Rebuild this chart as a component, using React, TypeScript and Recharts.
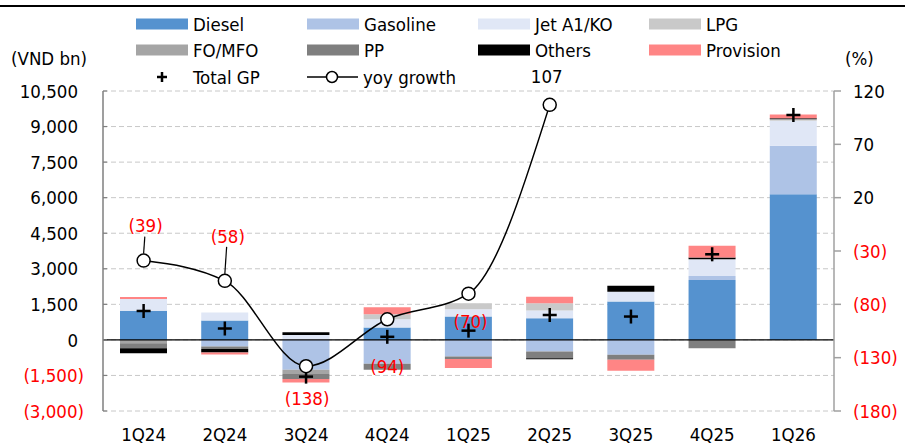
import React from "react";
import {
  ComposedChart,
  Bar,
  Line,
  XAxis,
  YAxis,
  CartesianGrid,
  ReferenceLine,
  LabelList,
} from "recharts";

// gross profit by segment (VND bn)
const quarters = ["1Q24", "2Q24", "3Q24", "4Q24", "1Q25", "2Q25", "3Q25", "4Q25", "1Q26"];
const diesel = [1225, 815, 0, 520, 985, 915, 1615, 2530, 6145];
const gasoline = [0, -280, -1265, -1010, -700, -490, -630, 170, 2040];
const jetA1 = [505, 340, 210, 350, 310, 320, 420, 705, 1055];
const lpg = [0, 0, 0, 210, 250, 310, 0, 0, 70];
const foMfo = [-140, 0, -170, 0, 0, 0, 0, 0, 0];
const pp = [-210, -100, -210, -250, -110, -280, -210, -350, 0];
const others = [-210, -155, 110, 0, 0, -50, 250, 70, 40];
const provision = [75, -85, -155, 295, -380, 280, -465, 495, 155];
const totalGp = [1220, 480, -1550, 130, 390, 1050, 985, 3610, 9490];
// yoy growth (%)
const yoyGrowth = [-39, -58, -138, -94, -70, 107, null, null, null];

const leftTicks = [-3000, -1500, 0, 1500, 3000, 4500, 6000, 7500, 9000, 10500];
const rightTicks = [-180, -130, -80, -30, 20, 70, 120];

const FONT = '"DejaVu Sans Condensed", "DejaVu Sans", sans-serif';
const FS = 18.5;
const RED = "#FF0000";

const segments = [
  { key: "diesel", name: "Diesel", color: "#5592CF" },
  { key: "gasoline", name: "Gasoline", color: "#AEC3E6" },
  { key: "jet", name: "Jet A1/KO", color: "#E0E7F6" },
  { key: "lpg", name: "LPG", color: "#C9C9C9" },
  { key: "fo", name: "FO/MFO", color: "#A5A5A5" },
  { key: "pp", name: "PP", color: "#7F7F7F" },
  { key: "others", name: "Others", color: "#000000" },
  { key: "provision", name: "Provision", color: "#FF8585" },
];

const tableData = quarters.map((q, i) => ({
  quarter: q,
  diesel: diesel[i],
  gasoline: gasoline[i],
  jet: jetA1[i],
  lpg: lpg[i],
  fo: foMfo[i],
  pp: pp[i],
  others: others[i],
  provision: provision[i],
  totalGp: totalGp[i],
  yoy: yoyGrowth[i],
}));

// label placement for yoy points (offset from marker), plus leader lines
const yoyLabelPos = [
  { dx: 2, dy: -35, leader: true },
  { dx: 3, dy: -45, leader: true },
  { dx: 1, dy: 32, leader: false },
  { dx: 0, dy: 47, leader: false },
  { dx: 2, dy: 28, leader: false },
  { dx: -3, dy: -29, leader: false },
];

const fmtNum = (v: number) =>
  v < 0 ? `(${Math.abs(v).toLocaleString("en-US")})` : v.toLocaleString("en-US");

const LeftTick = (props: any) => {
  const { x, y, payload } = props;
  const v = payload.value;
  return (
    <g>
      <line x1={103} x2={107} y1={y} y2={y} stroke="#7F7F7F" strokeWidth={1.2} />
      <text
        x={v < 0 ? x + 6 : x}
        y={y}
        dy="0.36em"
        textAnchor="end"
        fontSize={FS}
        fill={v < 0 ? RED : "#000"}
      >
        {fmtNum(v)}
      </text>
    </g>
  );
};

const RightTick = (props: any) => {
  const { x, y, payload } = props;
  const v = payload.value;
  return (
    <text x={x} y={y} dy="0.36em" textAnchor="start" fontSize={FS} fill={v < 0 ? RED : "#000"}>
      {fmtNum(v)}
    </text>
  );
};

const BottomTick = (props: any) => {
  const { x, y, payload } = props;
  return (
    <text x={x} y={y} dy="0.71em" textAnchor="middle" fontSize={FS} fill="#000">
      {payload.value}
    </text>
  );
};

const PlusDot = (props: any) => {
  const { cx, cy, index } = props;
  if (cx == null || cy == null) return <g key={`p${index}`} />;
  return (
    <g key={`p${index}`}>
      <line x1={cx - 7} x2={cx + 7} y1={cy} y2={cy} stroke="#000" strokeWidth={2.5} />
      <line x1={cx} x2={cx} y1={cy - 7} y2={cy + 7} stroke="#000" strokeWidth={2.5} />
    </g>
  );
};

const CircleDot = (props: any) => {
  const { cx, cy, index } = props;
  if (cx == null || cy == null) return <g key={`c${index}`} />;
  return <circle key={`c${index}`} cx={cx} cy={cy} r={6.5} fill="#fff" stroke="#000" strokeWidth={1.5} />;
};

const YoyLabel = (props: any) => {
  const { x, y, value, index } = props;
  if (value == null || x == null || y == null) return null;
  const pos = yoyLabelPos[index] || { dx: 0, dy: -30, leader: false };
  const ly = y + pos.dy;
  return (
    <g>
      {pos.leader && (
        <line x1={x + pos.dx * 0.6} y1={ly + 11} x2={x} y2={y - 7} stroke="#000" strokeWidth={1.2} />
      )}
      <text
        x={x + pos.dx}
        y={ly}
        dy="0.36em"
        textAnchor="middle"
        fontSize={FS}
        fill={value < 0 ? RED : "#000"}
      >
        {fmtNum(value)}
      </text>
    </g>
  );
};

const legendCols = [136, 307, 478, 649];
const legendRows = [24, 50];

export default function App() {
  return (
    <div
      style={{
        position: "absolute",
        left: 0,
        top: 0,
        width: 910,
        height: 446,
        background: "#fff",
        fontFamily: FONT,
      }}
    >
      <ComposedChart
        width={910}
        height={446}
        data={tableData}
        stackOffset="sign"
        margin={{ top: 91, right: 0, bottom: 0, left: 0 }}
      >
        <CartesianGrid yAxisId="left" vertical={false} stroke="#C8C8C8" strokeDasharray="5 3" />
        <XAxis
          dataKey="quarter"
          axisLine={false}
          tickLine={false}
          tickSize={0}
          tickMargin={17}
          height={35}
          interval={0}
          tick={<BottomTick />}
        />
        <YAxis
          yAxisId="left"
          orientation="left"
          width={103}
          domain={[-3000, 10500]}
          ticks={leftTicks}
          interval={0}
          allowDataOverflow
          axisLine={{ stroke: "#7F7F7F", strokeWidth: 1.5 }}
          tickLine={false}
          tickSize={0}
          tickMargin={25}
          tick={<LeftTick />}
        />
        <YAxis
          yAxisId="right"
          orientation="right"
          width={76}
          domain={[-180, 120]}
          ticks={rightTicks}
          interval={0}
          allowDataOverflow
          axisLine={{ stroke: "#A0A0A0", strokeWidth: 1.5 }}
          tickLine={{ stroke: "#A0A0A0", strokeWidth: 1.5 }}
          tickSize={7}
          tickMargin={12}
          tick={<RightTick />}
        />
        {segments.map((s) => (
          <Bar
            key={s.key}
            dataKey={s.key}
            name={s.name}
            stackId="gp"
            yAxisId="left"
            fill={s.color}
            barSize={47}
            isAnimationActive={false}
          />
        ))}
        <ReferenceLine yAxisId="left" y={0} stroke="#000" strokeWidth={1.3} />
        <Line
          dataKey="totalGp"
          name="Total GP"
          yAxisId="left"
          stroke="none"
          dot={PlusDot}
          activeDot={false}
          isAnimationActive={false}
        />
        <Line
          dataKey="yoy"
          name="yoy growth"
          yAxisId="right"
          type="monotone"
          stroke="#000"
          strokeWidth={1.5}
          dot={CircleDot}
          activeDot={false}
          isAnimationActive={false}
        >
          <LabelList dataKey="yoy" content={YoyLabel} />
        </Line>
      </ComposedChart>

      <svg
        width={910}
        height={446}
        style={{ position: "absolute", left: 0, top: 0, pointerEvents: "none" }}
      >
        <line x1={0} x2={905} y1={6} y2={6} stroke="#000" strokeWidth={2} />
        {segments.map((s, i) => {
          const x = legendCols[i % 4];
          const y = legendRows[Math.floor(i / 4)];
          return (
            <g key={s.key}>
              <rect x={x} y={y - 5.5} width={52} height={11} fill={s.color} />
              <text x={x + 57} y={y} dy="0.36em" fontSize={FS} fill="#000">
                {s.name}
              </text>
            </g>
          );
        })}
        <g>
          <line x1={157} x2={167} y1={77} y2={77} stroke="#000" strokeWidth={2.5} />
          <line x1={162} x2={162} y1={72} y2={82} stroke="#000" strokeWidth={2.5} />
          <text x={193} y={77} dy="0.36em" fontSize={FS} fill="#000">
            Total GP
          </text>
          <line x1={307} x2={358} y1={77} y2={77} stroke="#000" strokeWidth={1.5} />
          <circle cx={332} cy={77} r={5.5} fill="#fff" stroke="#000" strokeWidth={1.5} />
          <text x={363} y={77} dy="0.36em" fontSize={FS} fill="#000">
            yoy growth
          </text>
        </g>
        <text x={11} y={58} dy="0.36em" fontSize={FS} fill="#000">
          (VND bn)
        </text>
        <text x={845} y={58} dy="0.36em" fontSize={FS} fill="#000">
          (%)
        </text>
      </svg>
    </div>
  );
}
